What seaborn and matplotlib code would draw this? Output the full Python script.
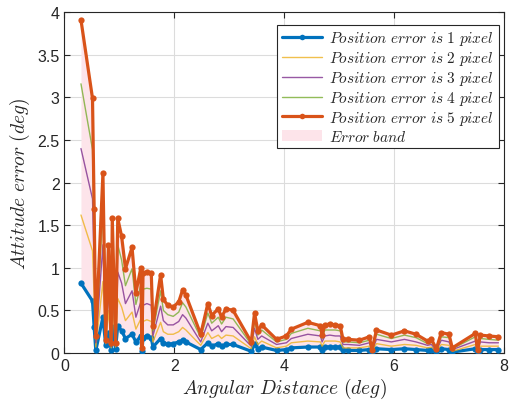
import numpy as np
import pandas as pd
import matplotlib
matplotlib.use("Agg")
import matplotlib.pyplot as plt
from matplotlib.patches import Patch
import seaborn as sns

# Angular distance between star pairs (deg)
angular_distance = [
    0.30, 0.51, 0.54, 0.57, 0.70, 0.75, 0.80, 0.85, 0.87, 0.93,
    0.97, 1.04, 1.11, 1.23, 1.30, 1.39, 1.41, 1.43, 1.50, 1.58,
    1.61, 1.75, 1.80, 1.88, 1.98, 2.08, 2.15, 2.21, 2.48, 2.61,
    2.68, 2.80, 2.86, 2.94, 3.07, 3.40, 3.46, 3.52, 3.59, 3.86,
    4.04, 4.13, 4.43, 4.66, 4.69, 4.74, 4.83, 4.93, 5.02, 5.07,
    5.16, 5.37, 5.55, 5.60, 5.68, 5.95, 6.19, 6.40, 6.61, 6.68,
    6.77, 6.86, 7.00, 7.06, 7.48, 7.52, 7.57, 7.73, 7.90,
]

# Attitude error (deg) for each position error level
err_1px = [
    0.82, 0.61, 0.30, 0.03, 0.42, 0.09, 0.24, 0.04, 0.30, 0.05,
    0.32, 0.26, 0.17, 0.22, 0.13, 0.20, 0.02, 0.18, 0.20, 0.18,
    0.07, 0.17, 0.12, 0.10, 0.11, 0.13, 0.15, 0.13, 0.04, 0.12,
    0.08, 0.11, 0.08, 0.10, 0.10, 0.02, 0.10, 0.05, 0.07, 0.03,
    0.04, 0.06, 0.07, 0.07, 0.04, 0.07, 0.07, 0.07, 0.07, 0.03,
    0.03, 0.03, 0.04, 0.01, 0.05, 0.04, 0.05, 0.04, 0.03, 0.04,
    0.01, 0.05, 0.04, 0.01, 0.05, 0.01, 0.04, 0.04, 0.04,
]
err_2px = [
    1.62, 1.20, 0.65, 0.07, 0.84, 0.11, 0.50, 0.06, 0.62, 0.07,
    0.64, 0.54, 0.38, 0.48, 0.28, 0.40, 0.03, 0.37, 0.39, 0.37,
    0.13, 0.36, 0.25, 0.22, 0.22, 0.25, 0.30, 0.27, 0.09, 0.24,
    0.17, 0.21, 0.17, 0.21, 0.20, 0.05, 0.19, 0.10, 0.14, 0.06,
    0.08, 0.12, 0.14, 0.13, 0.08, 0.14, 0.14, 0.14, 0.13, 0.06,
    0.06, 0.06, 0.08, 0.02, 0.11, 0.08, 0.10, 0.09, 0.06, 0.07,
    0.02, 0.10, 0.09, 0.02, 0.10, 0.02, 0.08, 0.08, 0.08,
]
err_3px = [
    2.40, 1.81, 1.00, 0.12, 1.27, 0.12, 0.76, 0.08, 0.94, 0.09,
    0.95, 0.82, 0.58, 0.73, 0.42, 0.60, 0.04, 0.56, 0.58, 0.56,
    0.20, 0.55, 0.38, 0.33, 0.33, 0.37, 0.45, 0.41, 0.13, 0.35,
    0.26, 0.32, 0.25, 0.31, 0.30, 0.08, 0.29, 0.16, 0.20, 0.10,
    0.12, 0.17, 0.22, 0.20, 0.13, 0.20, 0.21, 0.20, 0.20, 0.10,
    0.10, 0.09, 0.12, 0.03, 0.16, 0.13, 0.16, 0.13, 0.09, 0.10,
    0.03, 0.15, 0.13, 0.04, 0.14, 0.02, 0.13, 0.12, 0.12,
]
err_4px = [
    3.16, 2.39, 1.34, 0.16, 1.69, 0.14, 1.01, 0.10, 1.26, 0.10,
    1.27, 1.09, 0.79, 0.99, 0.57, 0.80, 0.05, 0.75, 0.76, 0.75,
    0.26, 0.73, 0.50, 0.45, 0.43, 0.48, 0.59, 0.54, 0.18, 0.47,
    0.35, 0.42, 0.34, 0.42, 0.40, 0.10, 0.38, 0.21, 0.27, 0.13,
    0.16, 0.23, 0.29, 0.26, 0.17, 0.27, 0.27, 0.27, 0.26, 0.13,
    0.13, 0.12, 0.15, 0.03, 0.22, 0.17, 0.21, 0.18, 0.11, 0.13,
    0.04, 0.19, 0.18, 0.05, 0.19, 0.03, 0.17, 0.16, 0.15,
]
err_5px = [
    3.91, 2.99, 1.69, 0.20, 2.11, 0.15, 1.27, 0.12, 1.58, 0.12,
    1.58, 1.37, 0.99, 1.24, 0.71, 1.00, 0.06, 0.94, 0.95, 0.94,
    0.32, 0.92, 0.63, 0.56, 0.54, 0.60, 0.74, 0.68, 0.22, 0.58,
    0.44, 0.52, 0.42, 0.52, 0.50, 0.13, 0.47, 0.26, 0.33, 0.16,
    0.20, 0.28, 0.36, 0.32, 0.21, 0.33, 0.34, 0.33, 0.32, 0.16,
    0.16, 0.15, 0.19, 0.04, 0.27, 0.21, 0.26, 0.22, 0.14, 0.16,
    0.05, 0.24, 0.22, 0.06, 0.23, 0.03, 0.21, 0.20, 0.19,
]

series_labels = [
    r"$Position\ error\ is\ 1\ pixel$",
    r"$Position\ error\ is\ 2\ pixel$",
    r"$Position\ error\ is\ 3\ pixel$",
    r"$Position\ error\ is\ 4\ pixel$",
    r"$Position\ error\ is\ 5\ pixel$",
]
band_label = r"$Error\ band$"
x_label = r"$Angular\ Distance\ (deg)$"
y_label = r"$Attitude\ error\ (deg)$"
x_ticks = [0, 2, 4, 6, 8]
y_ticks = [0, 0.5, 1, 1.5, 2, 2.5, 3, 3.5, 4]
y_tick_labels = ["0", "0.5", "1", "1.5", "2", "2.5", "3", "3.5", "4"]

sns.set_theme(style="ticks")
plt.rcParams["font.family"] = ["Liberation Sans", "DejaVu Sans"]
plt.rcParams["mathtext.fontset"] = "cm"

fig = plt.figure(figsize=(5.09, 4.10), dpi=100)
ax = fig.add_axes([0.1267, 0.1366, 0.8633, 0.8310])

df = pd.DataFrame({
    "dist": angular_distance,
    "e1": err_1px, "e2": err_2px, "e3": err_3px, "e4": err_4px, "e5": err_5px,
})

# shaded band between the smallest and largest error curves
ax.fill_between(df["dist"], df["e1"], df["e5"], color="#fde4ea", lw=0, zorder=1)

styles = [
    ("e1", "#0072bd", 2.3, "o", 1.0),
    ("e2", "#edb120", 1.0, None, 0.8),
    ("e3", "#7e2f8e", 1.0, None, 0.8),
    ("e4", "#77ac30", 1.0, None, 0.8),
    ("e5", "#d95319", 2.3, "o", 1.0),
]
handles = []
for (col, color, lw, mk, alpha), label in zip(styles, series_labels):
    sns.lineplot(data=df, x="dist", y=col, ax=ax, color=color, lw=lw,
                 marker=mk, markersize=4.5 if mk else 0, markeredgewidth=0,
                 alpha=alpha, estimator=None, sort=False, zorder=3)
    handles.append(plt.Line2D([], [], color=color, lw=lw, marker=mk,
                              markersize=4 if mk else 0, markeredgewidth=0,
                              alpha=alpha, label=label))
handles.append(Patch(facecolor="#fde4ea", edgecolor="none", label=band_label))

ax.set_xlim(0, 8)
ax.set_ylim(0, 4)
ax.set_xticks(x_ticks)
ax.set_yticks(y_ticks)
ax.set_yticklabels(y_tick_labels)
ax.set_xlabel(x_label, fontsize=14, labelpad=2)
ax.set_ylabel(y_label, fontsize=14, labelpad=4)
ax.tick_params(direction="in", top=True, right=True, labelsize=11.5,
               length=4, width=0.8, color="#262626", labelcolor="#262626")
ax.grid(True, color="#dcdcdc", lw=0.8)
ax.set_axisbelow(True)
for s in ax.spines.values():
    s.set_color("#262626")
    s.set_linewidth(0.8)

leg = ax.legend(handles=handles, loc="upper right", bbox_to_anchor=(0.995, 0.972),
                fontsize=11, frameon=True, fancybox=False, edgecolor="#262626",
                framealpha=1, labelspacing=0.12, handlelength=2.6,
                handletextpad=0.5, borderpad=0.3, borderaxespad=0.2)
leg.get_frame().set_linewidth(0.8)

fig.savefig("out.png", dpi=100)
